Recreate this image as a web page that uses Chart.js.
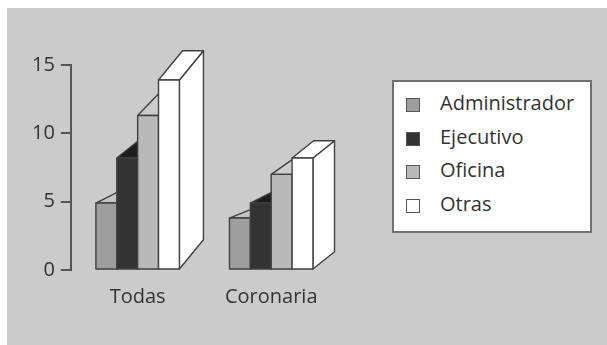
<!DOCTYPE html>
<html>
<head>
<meta charset="utf-8">
<script src="https://cdn.jsdelivr.net/npm/chart.js@4.4.1/dist/chart.umd.min.js"></script>
<style>
html,body{margin:0;padding:0;background:#fff;width:607px;height:345px;overflow:hidden;font-family:"Open Sans",sans-serif;}
#bg{position:absolute;left:7px;top:8px;width:600px;height:337px;background:#cbcbcb;}
#wrap{position:absolute;left:0;top:0;width:607px;height:345px;}
#legend{position:absolute;left:392px;top:80px;width:196px;height:149px;background:#fff;border:2px solid #707070;}
.item{position:absolute;left:0;height:24px;width:190px;}
.sw{position:absolute;left:12px;top:5px;width:12px;height:12px;border:1.5px solid #555;}
.lbl{position:absolute;left:46px;top:-2px;line-height:24px;font-size:20px;color:#333;white-space:nowrap;}
</style>
</head>
<body>
<div id="bg"></div>
<div id="wrap"><canvas id="c" width="607" height="345"></canvas></div>
<div id="legend"></div>
<script>
// ---- data ----
const categories = ['Todas', 'Coronaria'];
const seriesNames = ['Administrador', 'Ejecutivo', 'Oficina', 'Otras'];
const administrador = [4.9, 3.8];
const ejecutivo = [8.2, 4.9];
const oficina = [11.3, 7.0];
const otras = [13.9, 8.2];
const yTicks = [0, 5, 10, 15];

// ---- styles ----
const frontColors = ['#9e9e9e', '#333333', '#b9b9b9', '#ffffff'];
const topColors = ['#c4c4c4', '#1e1e1e', '#cdcdcd', '#ffffff'];
const sideColors = ['#8a8a8a', '#2a2a2a', '#a9a9a9', '#ffffff'];
const seriesValues = [administrador, ejecutivo, oficina, otras];

const datasets = seriesNames.map((name, i) => ({
  label: name,
  data: seriesValues[i],
  backgroundColor: frontColors[i],
  topColor: topColors[i],
  sideColor: sideColors[i],
  borderWidth: 0
}));

const bar3d = {
  id: 'bar3d',
  beforeDatasetsDraw(chart) {
    const ctx = chart.ctx;
    ctx.save();
    ctx.lineJoin = 'round';
    ctx.strokeStyle = '#404040';
    ctx.lineWidth = 1.4;
    const poly = (pts, fill) => {
      ctx.beginPath();
      ctx.moveTo(pts[0][0], pts[0][1]);
      for (let k = 1; k < pts.length; k++) ctx.lineTo(pts[k][0], pts[k][1]);
      ctx.closePath();
      ctx.fillStyle = fill;
      ctx.fill();
      ctx.stroke();
    };
    for (let c = 0; c < categories.length; c++) {
      chart.data.datasets.forEach((ds, d) => {
        const el = chart.getDatasetMeta(d).data[c];
        const p = el.getProps(['x', 'y', 'base', 'width'], true);
        const l = p.x - p.width / 2, r = p.x + p.width / 2;
        const y = p.y, b = p.base;
        const h = b - y;
        const dx = 18 + 0.032 * h, dy = -0.155 * h;
        poly([[r, y], [r + dx, y + dy], [r + dx, b + dy], [r, b]], ds.sideColor);
        poly([[l, y], [l + dx, y + dy], [r + dx, y + dy], [r, y]], ds.topColor);
        poly([[l, y], [r, y], [r, b], [l, b]], ds.backgroundColor);
      });
    }
    ctx.restore();
    return false;
  }
};

const font = { family: '"Open Sans", sans-serif', size: 20 };

new Chart(document.getElementById('c'), {
  type: 'bar',
  data: { labels: categories, datasets },
  options: {
    responsive: false,
    animation: false,
    events: [],
    layout: { padding: { left: 26, top: 65, right: 269, bottom: 21 } },
    datasets: { bar: { categoryPercentage: 0.625, barPercentage: 1.0 } },
    plugins: { legend: { display: false }, tooltip: { enabled: false } },
    scales: {
      x: {
        grid: { display: false, drawTicks: false },
        border: { display: false },
        ticks: { font, color: '#333', padding: 15, maxRotation: 0 }
      },
      y: {
        min: 0, max: 15,
        afterBuildTicks: (scale) => { scale.ticks = yTicks.map(v => ({ value: v })); },
        grid: { drawOnChartArea: false, drawTicks: true, tickLength: 10, color: '#555', lineWidth: 2 },
        border: { display: true, color: '#555', width: 2 },
        ticks: { font, color: '#333', padding: 6 }
      }
    }
  },
  plugins: [bar3d]
});

// HTML legend built from the series names
const leg = document.getElementById('legend');
seriesNames.forEach((name, i) => {
  const it = document.createElement('div');
  it.className = 'item';
  it.style.top = (11 + i * 33.5) + 'px';
  const sw = document.createElement('div');
  sw.className = 'sw';
  sw.style.background = frontColors[i];
  const lb = document.createElement('div');
  lb.className = 'lbl';
  lb.textContent = name;
  it.appendChild(sw);
  it.appendChild(lb);
  leg.appendChild(it);
});
</script>
</body>
</html>
